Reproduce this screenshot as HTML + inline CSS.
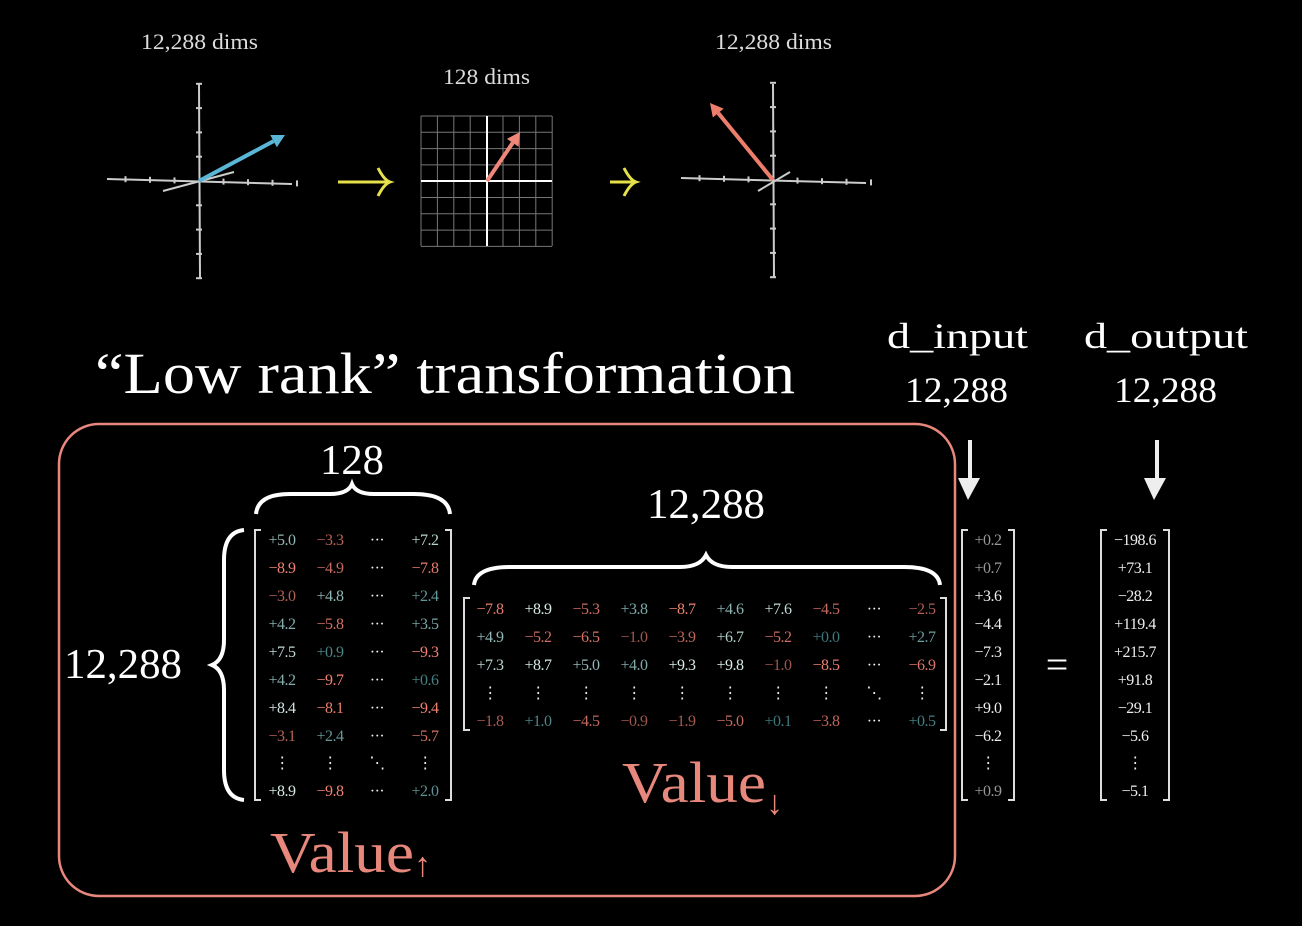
<!DOCTYPE html>
<html><head><meta charset="utf-8"><style>
html,body{margin:0;padding:0;background:#000;}
svg{display:block;font-family:"Liberation Serif",serif;}
</style></head><body>
<svg id="s" width="1302" height="926" viewBox="0 0 1302 926" xmlns="http://www.w3.org/2000/svg">
<rect width="1302" height="926" fill="#000"/>
<g fill="#ddd" font-size="22">
<text x="141" y="49" textLength="117" lengthAdjust="spacingAndGlyphs">12,288 dims</text>
<text x="443" y="84" textLength="87" lengthAdjust="spacingAndGlyphs">128 dims</text>
<text x="715" y="49" textLength="117" lengthAdjust="spacingAndGlyphs">12,288 dims</text>
</g>
<g id="plots"></g>
<g stroke="#e6e04a" stroke-width="3" fill="none">
<path d="M338 182H388M378 168Q384 180 390 182Q384 184 378 196"/>
<path d="M610 182H634M624 168Q630 180 636 182Q630 184 624 196"/>
</g>
<text x="95" y="393" fill="#fff" font-size="58" textLength="700" lengthAdjust="spacingAndGlyphs">“Low rank” transformation</text>
<g fill="#fff" font-size="36">
<text x="887" y="348" textLength="141" lengthAdjust="spacingAndGlyphs">d_input</text>
<text x="905" y="402" textLength="103" lengthAdjust="spacingAndGlyphs">12,288</text>
<text x="1084" y="348" textLength="164" lengthAdjust="spacingAndGlyphs">d_output</text>
<text x="1114" y="402" textLength="103" lengthAdjust="spacingAndGlyphs">12,288</text>
</g>
<g stroke="#eee" stroke-width="4" fill="#eee">
<path d="M970 440V485"/><path d="M958 478L968 500L980 478Z" stroke="none"/>
<path d="M1157 440V485"/><path d="M1144 478L1154 500L1166 478Z" stroke="none"/>
</g>
<rect x="59" y="424" width="896" height="472" rx="40" fill="none" stroke="#e8877c" stroke-width="2.5"/>
<g fill="#fff" font-size="42">
<text x="320" y="474" textLength="64" lengthAdjust="spacingAndGlyphs">128</text>
<text x="647" y="518" textLength="118" lengthAdjust="spacingAndGlyphs">12,288</text>
<text x="64" y="678" textLength="118" lengthAdjust="spacingAndGlyphs">12,288</text>
</g>
<g stroke="#fff" stroke-width="4" fill="none">
<path d="M256 514Q258 494 290 494H330Q348 494 352 484Q356 494 374 494H414Q448 494 450 514"/>
<path d="M474 585Q476 567 510 567H680Q700 567 706 555Q712 567 732 567H904Q938 567 940 585"/>
<path d="M244 530Q224 532 224 560V640Q224 660 212 665Q224 670 224 690V770Q224 798 244 800"/>
</g>
<g id="mats"></g>
<text x="1057" y="678" fill="#fff" font-size="40" text-anchor="middle">=</text>
<text x="622" y="802" fill="#e8877c" font-size="58"><tspan textLength="144" lengthAdjust="spacingAndGlyphs">Value</tspan><tspan font-size="34" dy="12">↓</tspan></text>
<text x="270" y="872" fill="#e8877c" font-size="58"><tspan textLength="144" lengthAdjust="spacingAndGlyphs">Value</tspan><tspan font-size="34" dy="4">↑</tspan></text>
</svg>
<script>
const leftMatrix=[["+5.0","-3.3","…","+7.2"],["-8.9","-4.9","…","-7.8"],["-3.0","+4.8","…","+2.4"],["+4.2","-5.8","…","+3.5"],["+7.5","+0.9","…","-9.3"],["+4.2","-9.7","…","+0.6"],["+8.4","-8.1","…","-9.4"],["-3.1","+2.4","…","-5.7"],["⋮","⋮","⋱","⋮"],["+8.9","-9.8","…","+2.0"]];
const wideMatrix=[["-7.8","+8.9","-5.3","+3.8","-8.7","+4.6","+7.6","-4.5","…","-2.5"],["+4.9","-5.2","-6.5","-1.0","-3.9","+6.7","-5.2","+0.0","…","+2.7"],["+7.3","+8.7","+5.0","+4.0","+9.3","+9.8","-1.0","-8.5","…","-6.9"],["⋮","⋮","⋮","⋮","⋮","⋮","⋮","⋮","⋱","⋮"],["-1.8","+1.0","-4.5","-0.9","-1.9","-5.0","+0.1","-3.8","…","+0.5"]];
const inputVector=["+0.2","+0.7","+3.6","-4.4","-7.3","-2.1","+9.0","-6.2","⋮","+0.9"];
const outputVector=["-198.6","+73.1","-28.2","+119.4","+215.7","+91.8","-29.1","-5.6","⋮","-5.1"];
const NS="http://www.w3.org/2000/svg";
function mk(tag,attrs,parent){const e=document.createElementNS(NS,tag);for(const k in attrs)e.setAttribute(k,attrs[k]);parent.appendChild(e);return e;}
function mix(a,b,t){return "rgb("+a.map((v,i)=>Math.round(v+(b[i]-v)*t)).join(",")+")";}
function colorFor(s){const v=parseFloat(s);if(isNaN(v))return "#eee";const t=Math.min(Math.abs(v)/9,1);
 return v<0?mix([150,80,72],[240,130,115],t):mix([60,120,125],[215,235,230],t);}
function txt(s){return s.replace("-","−");}
const mats=document.getElementById("mats");
function bracket(x1,x2,y1,y2,name){const g=mk("g",{stroke:"#ddd","stroke-width":2,fill:"none"},mats);
 
 
 mk("path",{d:`M${x1+6} ${y1}H${x1}V${y2}H${x1+6}`},g);mk("path",{d:`M${x2-6} ${y1}H${x2}V${y2}H${x2-6}`},g);}
function drawMatrix(data,cx,ry,name,colored){
 data.forEach((row,i)=>row.forEach((s,j)=>{const t=mk("text",{x:cx[j],y:ry[i]+5,"text-anchor":"middle","font-size":16,"letter-spacing":-0.5,fill:colored?colorFor(s):(s.startsWith("+0")?"#999":"#eee")},mats);
  
  
  t.textContent=s==="…"?"···":txt(s);}));}
const rows10=[540,568,596,624,652,680,708,736,763,791];
bracket(255,451,530,800,"value-up-matrix-bracket");
drawMatrix(leftMatrix,[282,330,377,425],rows10,"value-up",true);
bracket(464,946,598,730,"value-down-matrix-bracket");
drawMatrix(wideMatrix,[490,538,586,634,682,730,778,826,874,922],[609,637,665,693,721],"value-down",true);
bracket(962,1014,530,800,"input-vector-bracket");
drawMatrix(inputVector.map(v=>[v]),[988],rows10,"input-vector",false);
bracket(1101,1169,530,800,"output-vector-bracket");
drawMatrix(outputVector.map(v=>[v]),[1135],rows10,"output-vector",false);
const P=document.getElementById("plots");
function axes(cx,cy,name){const g=mk("g",{stroke:"#ccc","stroke-width":2},P);
 
 
 mk("line",{x1:cx,y1:84,x2:cx+1,y2:278},g);mk("line",{x1:cx-92,y1:cy-2,x2:cx+93,y2:cy+3},g);
 for(let k=-3;k<=4;k++){if(!k)continue;mk("line",{x1:cx+k*24.5,y1:cy-3+k*0.6,x2:cx+k*24.5,y2:cy+3+k*0.6},g);}
 for(let k=-4;k<=4;k++){if(!k)continue;mk("line",{x1:cx-3,y1:cy+k*24.3,x2:cx+3,y2:cy+k*24.3},g);}
 return g;}
function arrow(x1,y1,x2,y2,col,name){const g=mk("g",{},P);
 
 
 const a=Math.atan2(y2-y1,x2-x1),L=13,W=7;const bx=x2-L*Math.cos(a),by=y2-L*Math.sin(a);
 mk("line",{x1,y1,x2:bx,y2:by,stroke:col,"stroke-width":4},g);
 mk("path",{d:`M${x2} ${y2}L${bx-W*Math.sin(a)} ${by+W*Math.cos(a)}L${bx+W*Math.sin(a)} ${by-W*Math.cos(a)}Z`,fill:col},g);}
const g1=axes(199,181,"input-space-axes");mk("line",{x1:163,y1:191,x2:234,y2:172},g1);
arrow(199,181,285,135,"#5bb5d5","input-vector-arrow");
const g2=axes(773,180,"output-space-axes");mk("line",{x1:758,y1:191,x2:790,y2:172},g2);
arrow(773,180,710,103,"#ee7e6c","output-vector-arrow");
const grid=mk("g",{stroke:"#777","stroke-width":1},P);


for(let k=0;k<=8;k++){mk("line",{x1:421+k*16.4,y1:116,x2:421+k*16.4,y2:246},grid);mk("line",{x1:421,y1:116+k*16.3,x2:552,y2:116+k*16.3},grid);}
mk("line",{x1:487,y1:116,x2:487,y2:246,stroke:"#fff","stroke-width":2},grid);
mk("line",{x1:421,y1:181,x2:552,y2:181,stroke:"#fff","stroke-width":2},grid);
arrow(487,181,520,132,"#f0887a","latent-vector-arrow");
</script>
</body></html>
